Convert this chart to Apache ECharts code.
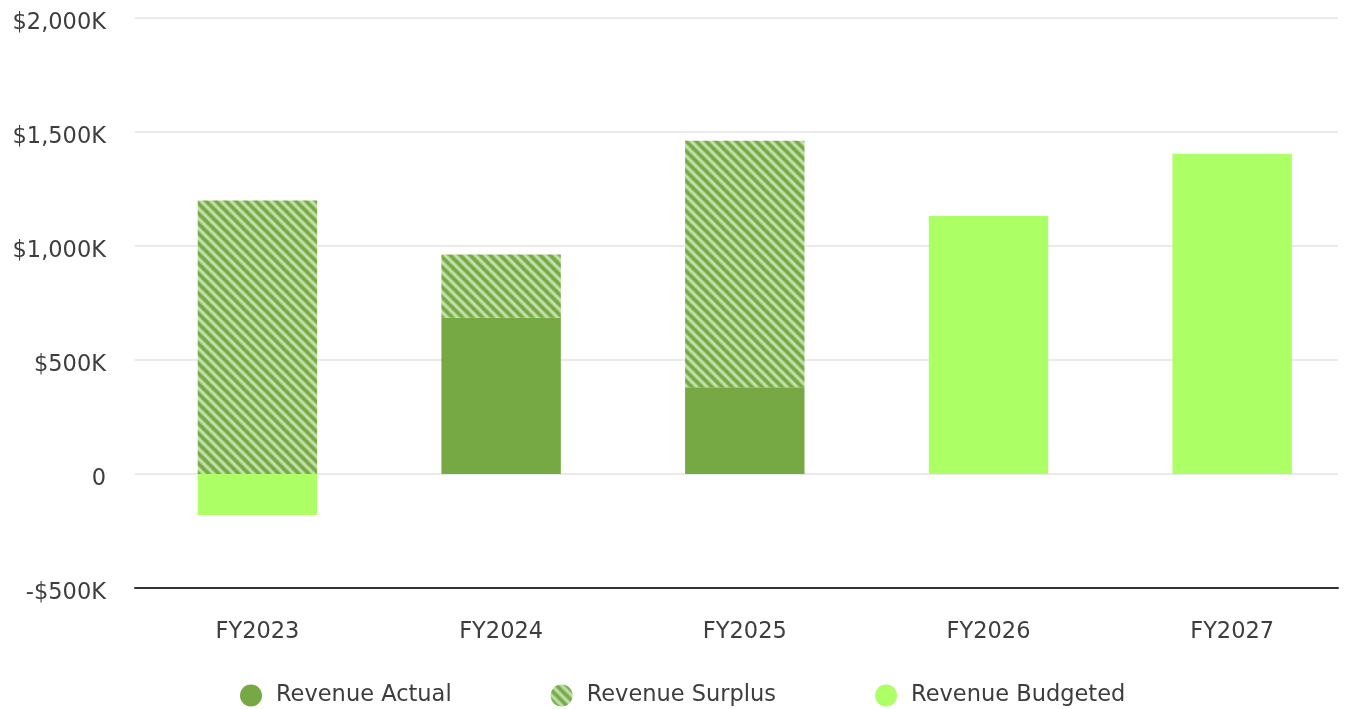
<!DOCTYPE html>
<html>
<head>
<meta charset="utf-8">
<script src="https://cdn.jsdelivr.net/npm/echarts@6/dist/echarts.min.js"></script>
<style>
html,body{margin:0;padding:0;background:#fff;}
#main{width:1356px;height:709px;}
</style>
</head>
<body>
<div id="main"></div>
<script>
var categories = ['FY2023', 'FY2024', 'FY2025', 'FY2026', 'FY2027'];
var revenueActual = [null, 685, 380, null, null];
var revenueSurplus = [1200, 278, 1082, null, null];
var revenueBudgeted = [-180, null, null, 1132, 1405];

function makePattern() {
  var s = 10;
  var c = document.createElement('canvas');
  c.width = s; c.height = s;
  var ctx = c.getContext('2d');
  ctx.fillStyle = '#76a844';
  ctx.fillRect(0, 0, s, s);
  function stripes(color, w) {
    ctx.strokeStyle = color;
    ctx.lineWidth = w;
    for (var k = -1; k <= 1; k++) {
      ctx.beginPath();
      ctx.moveTo(k * s - 1, -1);
      ctx.lineTo(k * s + s + 1, s + 1);
      ctx.stroke();
    }
  }
  stripes('#92bf6a', 4.6);
  stripes('#b3d797', 2.8);
  stripes('#cce6b6', 1.2);
  return c;
}

var chart = echarts.init(document.getElementById('main'));
var pattern = { image: makePattern(), repeat: 'repeat' };
var font = '"DejaVu Sans", sans-serif';
var txt = '#3d3d3d';
var fs = 22.5;

function fmt(v) {
  if (v === 0) return '0';
  var a = Math.abs(v).toLocaleString('en-US');
  return (v < 0 ? '-' : '') + '$' + a + 'K';
}

chart.setOption({
  animation: false,
  grid: [
    { left: 135, right: 18, top: 18, bottom: 121 },
    { left: 135.6, right: 2, top: 18, bottom: 121 }
  ],
  legend: {
    top: 679,
    left: 235,
    itemGap: 99,
    itemWidth: 22,
    itemHeight: 22,
    icon: 'circle',
    textStyle: { fontFamily: font, fontSize: fs, color: txt, padding: [0, 0, 0, 9] },
    data: ['Revenue Actual', 'Revenue Surplus', 'Revenue Budgeted']
  },
  xAxis: [
    {
      gridIndex: 0, type: 'category', data: categories,
      axisLine: { onZero: false, lineStyle: { color: '#333', width: 2 } },
      axisTick: { show: false }, axisLabel: { show: false }
    },
    {
      gridIndex: 1, type: 'category', data: categories,
      axisLine: { show: false }, axisTick: { show: false },
      axisLabel: { fontFamily: font, fontSize: fs, color: txt, margin: 33 }
    }
  ],
  yAxis: [
    {
      gridIndex: 0, type: 'value', min: -500, max: 2000, interval: 500,
      axisLine: { show: false }, axisTick: { show: false },
      splitLine: { lineStyle: { color: '#e3e3e3', width: 1.5 } },
      axisLabel: { fontFamily: font, fontSize: fs, color: txt, margin: 29, verticalAlign: 'top', lineHeight: 10, formatter: fmt }
    },
    {
      gridIndex: 1, type: 'value', min: -500, max: 2000, interval: 500,
      axisLine: { show: false }, axisTick: { show: false },
      splitLine: { show: false }, axisLabel: { show: false }
    }
  ],
  series: [
    {
      name: 'Revenue Actual', type: 'bar', stack: 'total', barWidth: '49%',
      xAxisIndex: 1, yAxisIndex: 1,
      itemStyle: { color: '#76a844' }, data: revenueActual
    },
    {
      name: 'Revenue Surplus', type: 'bar', stack: 'total', barWidth: '49%',
      xAxisIndex: 1, yAxisIndex: 1,
      itemStyle: { color: pattern }, data: revenueSurplus
    },
    {
      name: 'Revenue Budgeted', type: 'bar', stack: 'total', barWidth: '49%',
      xAxisIndex: 1, yAxisIndex: 1,
      itemStyle: { color: '#adff66' }, data: revenueBudgeted
    }
  ]
});
</script>
</body>
</html>
